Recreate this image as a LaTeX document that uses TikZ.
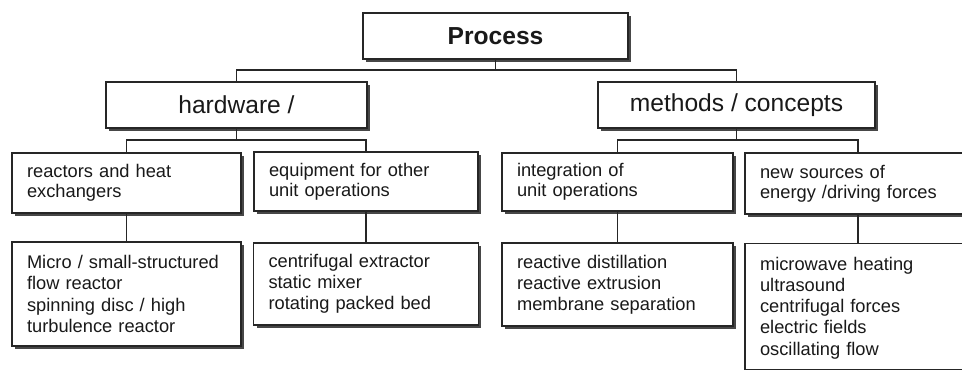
\documentclass[tikz,border=0pt]{standalone}
\usepackage{fontspec}
\setmainfont{Liberation Sans}
\usetikzlibrary{shadows}

\begin{document}
\begin{tikzpicture}[x=0.02cm,y=0.02cm,
    box/.style={draw=black!85,line width=0.75pt,fill=white,text=black!90,
      drop shadow={shadow xshift=0.6mm,shadow yshift=-0.6mm,fill=black!72,opacity=1}},
    procbox/.style={box,font=\fontsize{14}{16}\selectfont\bfseries,minimum height=9.2mm},
    groupbox/.style={box,font=\fontsize{14}{16}\selectfont,minimum height=9.2mm},
    catbox/.style={box,font=\fontsize{10.4}{11.6}\selectfont,align=left,inner xsep=3mm},
    itembox/.style={box,font=\fontsize{10.4}{12}\selectfont,align=left,inner xsep=3mm},
    link/.style={draw=black!85,line width=0.6pt}]
  \useasboundingbox (0,0) rectangle (962,369);
  \clip (0,0) rectangle (962,369);

  % top level
  \node[procbox,minimum width=53mm] (proc) at (495.5,333) {Process};
  \node[groupbox,minimum width=52.2mm] (hw) at (236.5,264) {hardware /};
  \node[groupbox,minimum width=55.4mm] (meth) at (736.5,264) {methods / concepts};

  % second level
  \node[catbox,text width=39.8mm,minimum height=12mm] (reac) at (126.5,186) {reactors and heat\\exchangers};
  \node[catbox,text width=38.8mm,minimum height=11.8mm] (equip) at (366,187.5) {equipment for other\\unit operations};
  \node[catbox,text width=40.2mm,minimum height=11.6mm] (integ) at (617.5,187) {integration of\\unit operations};
  \node[catbox,text width=39.2mm,minimum height=12.2mm] (news) at (858,185.5) {new sources of\\energy /driving forces};

  % third level
  \node[itembox,text width=39.8mm,minimum height=20.8mm] (micro) at (126.5,75) {Micro / small-structured\\flow reactor\\spinning disc / high\\turbulence reactor};
  \node[itembox,text width=39mm,minimum height=16.4mm] (centr) at (366,85) {centrifugal extractor\\static mixer\\rotating packed bed};
  \node[itembox,text width=40.2mm,minimum height=16.6mm] (rdist) at (617.5,84.5) {reactive distillation\\reactive extrusion\\membrane separation};
  \node[itembox,text width=39.2mm,anchor=north,inner ysep=4pt,text height=11.4pt,text depth=52.4pt] (mwave) at (858,126) {microwave heating\\ultrasound\\centrifugal forces\\electric fields\\oscillating flow};

  % connectors
  \coordinate (j1) at (495.5,299);
  \coordinate (j2) at (236.5,229);
  \coordinate (j3) at (736.5,229);
  \draw[link] (proc.south) -- (j1);
  \draw[link] (hw.north) |- (j1) -| (meth.north);
  \draw[link] (hw.south) -- (j2);
  \draw[link] (reac.north) |- (j2) -| (equip.north);
  \draw[link] (meth.south) -- (j3);
  \draw[link] (integ.north) |- (j3) -| (news.north);
  \draw[link] (reac.south) -- (micro.north);
  \draw[link] (equip.south) -- (centr.north);
  \draw[link] (integ.south) -- (rdist.north);
  \draw[link] (news.south) -- (mwave.north);
\end{tikzpicture}
\end{document}
